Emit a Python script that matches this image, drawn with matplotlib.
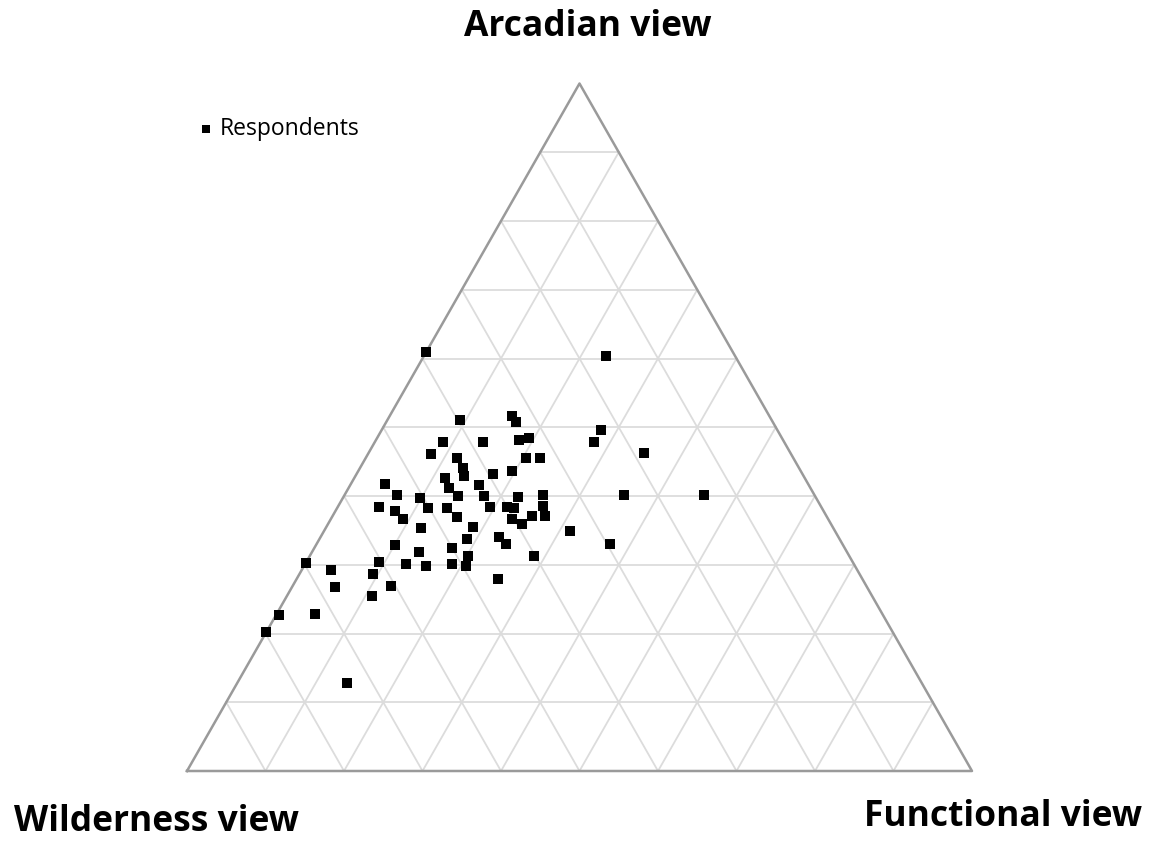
import numpy as np
import matplotlib
matplotlib.use("Agg")
import matplotlib.pyplot as plt

# respondent scores (%) on the three landscape views
arcadian = [51.1, 51.7, 50.7, 47.8, 47.8, 48.1, 48.4, 46.1, 45.5, 45.5,
            45.5, 44.0, 42.9, 43.2, 43.6, 42.6, 41.7, 41.2, 41.6, 40.2,
            39.7, 40.0, 40.0, 39.9, 40.2, 38.4, 37.8, 36.7, 38.3, 38.3,
            37.0, 38.4, 38.4, 38.2, 38.5, 37.1, 37.1, 36.6, 35.9, 35.5,
            35.3, 34.9, 33.8, 34.0, 33.0, 32.9, 31.8, 32.4, 31.3, 31.3,
            30.4, 30.1, 29.8, 30.1, 29.8, 28.7, 26.9, 28.0, 30.2, 29.2,
            26.8, 25.4, 22.7, 22.8, 20.2, 12.8, 60.9, 60.4, 49.6, 47.8,
            46.2, 40.1, 40.1, 33.0]
functional = [9.2, 15.5, 16.5, 8.7, 13.8, 18.3, 19.4, 8.0, 11.7, 20.4,
              22.2, 13.2, 13.8, 17.4, 19.6, 11.6, 4.4, 12.8, 16.4, 6.7,
              9.8, 14.5, 17.8, 22.2, 25.3, 5.2, 7.6, 9.2, 11.5, 14.0,
              15.9, 19.4, 21.6, 22.6, 26.1, 27.1, 25.4, 23.1, 24.7, 18.7,
              12.2, 31.3, 18.8, 22.8, 24.1, 10.1, 13.7, 17.5, 20.1, 28.5,
              9.3, 12.8, 15.5, 18.7, 20.6, 9.4, 12.6, 25.6, 0.0, 3.8,
              5.5, 10.9, 0.4, 4.9, 0.0, 14.0, 0.0, 23.2, 28.0, 27.9,
              35.1, 35.6, 45.8, 37.4]
wilderness = [100 - a - f for a, f in zip(arcadian, functional)]

corner_labels = ["Arcadian view", "Wilderness view", "Functional view"]
series_name = "Respondents"

H = np.sqrt(3) / 2


def to_xy(a, f):
    a = np.asarray(a) / 100.0
    f = np.asarray(f) / 100.0
    return f + a / 2, a * H


fig = plt.figure(figsize=(11.51, 8.43), dpi=100)
ax = fig.add_axes([187 / 1151, 72 / 843, 785 / 1151, 687.5 / 843])
ax.set_xlim(0, 1)
ax.set_ylim(0, H)
ax.axis("off")

# 10% grid
grid_kw = dict(color="#dcdcdc", lw=1.3, zorder=1)
for i in range(1, 10):
    t = i * 10
    x, y = to_xy([t, t], [0, 100 - t])  # constant arcadian
    ax.plot(x, y, **grid_kw)
    x, y = to_xy([0, 100 - t], [t, t])  # constant functional
    ax.plot(x, y, **grid_kw)
    x, y = to_xy([0, 100 - t], [100 - t, 0])  # constant wilderness
    ax.plot(x, y, **grid_kw)

# outline
x, y = to_xy([0, 0, 100, 0], [0, 100, 0, 0])
ax.plot(x, y, color="#9a9a9a", lw=1.8, zorder=2, clip_on=False)

px, py = to_xy(arcadian, functional)
ax.scatter(px, py, marker="s", s=62, color="black", linewidths=0,
           zorder=3, label=series_name, clip_on=False)

title_kw = dict(family="Open Sans", weight="bold", fontsize=25.5, color="black")
fig.text(588 / 1151, 1 - 27 / 843, corner_labels[0], ha="center", va="center", **title_kw)
fig.text(156 / 1151, 1 - 822 / 843, corner_labels[1], ha="center", va="center", **title_kw)
fig.text(1003 / 1151, 1 - 817 / 843, corner_labels[2], ha="center", va="center", **title_kw)

fig.legend(loc="center left", bbox_to_anchor=(201 / 1151, 1 - 129 / 843),
           frameon=False, borderpad=0, borderaxespad=0, handlelength=0.42,
           handletextpad=0.42, markerscale=0.7,
           prop=dict(family="Open Sans", size=16.5))

fig.savefig("out.png", dpi=100)
